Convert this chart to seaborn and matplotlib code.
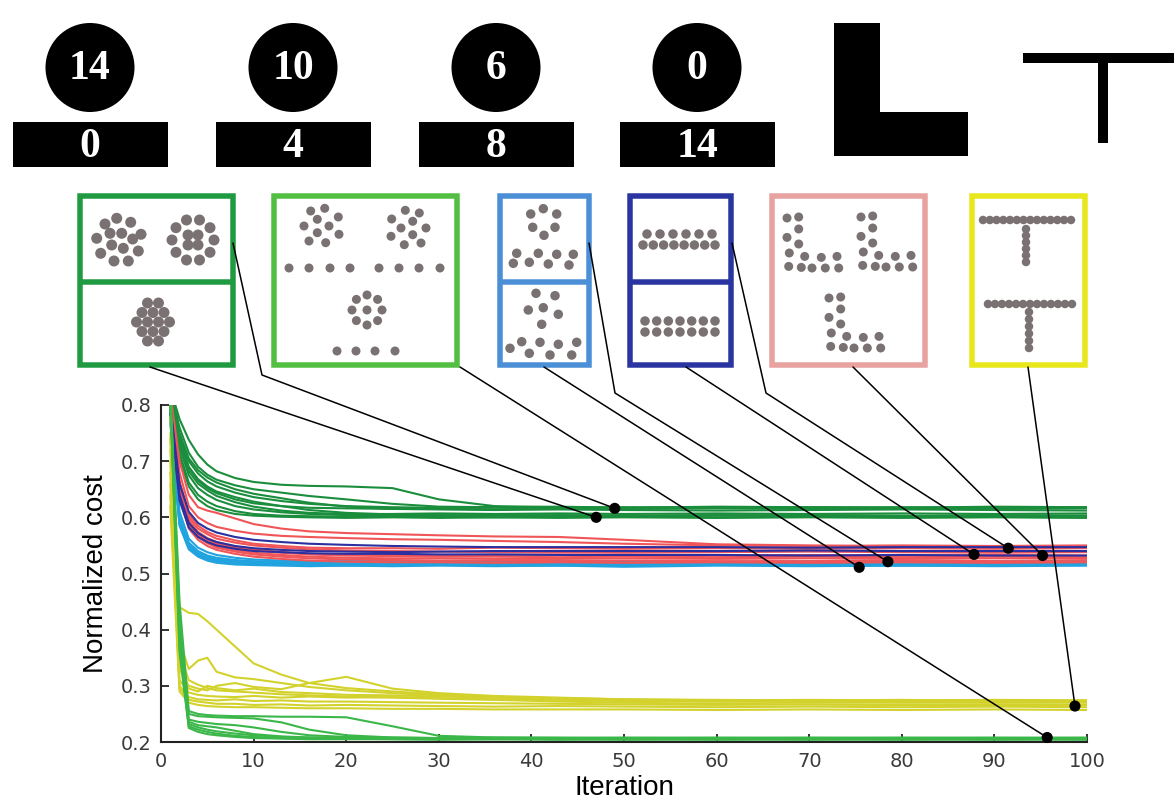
import matplotlib
matplotlib.use("Agg")
import matplotlib.pyplot as plt
from matplotlib.patches import Circle, Rectangle, Polygon
import numpy as np
import pandas as pd
import seaborn as sns

# ---------------------------------------------------------------- data
iterations = [1, 2, 3, 4, 5, 6, 8, 10, 13, 16, 20, 25, 30, 36, 43, 50, 60, 70, 80, 90, 100]

cost_dark_green = [
    [.830, .775, .738, .712, .694, .682, .670, .663, .658, .656, .655, .652, .632, .620, .618, .617, .618, .617, .618, .617, .618],
    [.830, .760, .715, .690, .676, .667, .657, .650, .644, .638, .632, .624, .619, .618, .617, .618, .617, .618, .617, .618, .617],
    [.825, .745, .700, .678, .664, .655, .644, .636, .629, .624, .620, .618, .617, .618, .619, .617, .619, .618, .617, .619, .618],
    [.820, .735, .688, .665, .652, .643, .632, .625, .620, .617, .616, .615, .616, .617, .616, .615, .616, .615, .616, .615, .616],
    [.820, .725, .675, .652, .640, .631, .620, .614, .609, .606, .604, .603, .603, .604, .603, .602, .603, .604, .603, .602, .603],
    [.815, .715, .662, .640, .628, .620, .611, .606, .603, .602, .601, .602, .601, .600, .601, .602, .600, .601, .602, .601, .600],
    [.825, .740, .690, .668, .655, .646, .636, .628, .620, .613, .608, .605, .604, .603, .604, .603, .604, .603, .602, .604, .603],
    [.810, .705, .655, .632, .620, .613, .606, .603, .601, .600, .599, .600, .599, .600, .599, .600, .599, .600, .599, .600, .599],
    [.828, .750, .705, .684, .671, .662, .650, .642, .634, .626, .619, .615, .614, .613, .614, .613, .612, .613, .614, .613, .612],
    [.822, .730, .682, .660, .648, .638, .627, .619, .612, .608, .606, .606, .607, .606, .607, .606, .607, .606, .607, .606, .607],
]

cost_cyan = [
    [.780, .600, .555, .540, .532, .528, .524, .522, .521, .520, .521, .520, .519, .520, .521, .520, .519, .520, .521, .520, .519],
    [.775, .590, .548, .534, .527, .523, .520, .518, .517, .517, .516, .517, .518, .517, .516, .517, .518, .517, .516, .517, .516],
    [.770, .585, .543, .530, .523, .519, .516, .515, .514, .513, .514, .513, .514, .513, .514, .512, .514, .513, .514, .513, .514],
    [.785, .610, .562, .546, .538, .533, .528, .525, .523, .522, .523, .522, .521, .522, .523, .522, .521, .522, .523, .522, .522],
    [.780, .595, .551, .537, .530, .525, .522, .520, .519, .518, .518, .519, .518, .517, .518, .519, .518, .517, .518, .519, .518],
    [.772, .588, .546, .532, .525, .521, .518, .516, .515, .515, .514, .515, .516, .515, .514, .515, .516, .515, .514, .515, .515],
]

cost_red = [
    [.820, .700, .640, .618, .612, .608, .598, .588, .580, .575, .572, .570, .568, .566, .565, .560, .552, .550, .548, .547, .546],
    [.815, .680, .620, .600, .590, .583, .576, .571, .567, .565, .563, .561, .560, .558, .556, .553, .550, .549, .550, .549, .550],
    [.810, .660, .600, .580, .570, .562, .555, .550, .546, .543, .541, .540, .539, .538, .538, .537, .538, .539, .538, .537, .538],
    [.805, .650, .590, .570, .560, .553, .546, .541, .537, .534, .532, .531, .530, .530, .529, .530, .529, .530, .529, .530, .529],
    [.800, .640, .585, .565, .554, .546, .539, .534, .530, .527, .525, .524, .523, .523, .522, .523, .522, .522, .523, .522, .522],
    [.812, .665, .605, .585, .574, .567, .559, .553, .549, .546, .545, .545, .544, .546, .545, .544, .545, .544, .545, .544, .545],
    [.808, .655, .595, .574, .563, .556, .548, .543, .538, .535, .533, .533, .532, .533, .534, .533, .532, .533, .532, .533, .532],
    [.803, .645, .588, .567, .556, .549, .542, .537, .533, .530, .528, .527, .527, .526, .526, .527, .526, .527, .526, .527, .526],
    [.798, .638, .580, .560, .549, .542, .535, .530, .526, .523, .521, .520, .520, .519, .520, .519, .520, .519, .520, .519, .520],
]

cost_blue = [
    [.800, .660, .610, .590, .580, .573, .565, .560, .556, .553, .551, .549, .548, .547, .547, .547, .547, .546, .547, .547, .547],
    [.790, .640, .590, .572, .562, .556, .549, .545, .542, .540, .539, .538, .539, .540, .540, .540, .540, .541, .540, .540, .540],
    [.785, .630, .582, .565, .556, .550, .544, .540, .538, .536, .535, .535, .534, .534, .533, .533, .533, .532, .533, .532, .532],
]

cost_yellow = [
    [.780, .440, .430, .428, .415, .400, .370, .340, .320, .305, .296, .290, .285, .280, .276, .274, .272, .273, .272, .274, .273],
    [.720, .380, .330, .345, .350, .325, .315, .312, .305, .298, .292, .287, .283, .280, .278, .276, .275, .274, .275, .273, .274],
    [.680, .330, .300, .295, .292, .300, .305, .298, .294, .305, .316, .295, .287, .282, .279, .276, .274, .272, .271, .272, .271],
    [.640, .310, .288, .284, .282, .281, .280, .282, .279, .281, .279, .280, .278, .276, .275, .273, .272, .271, .270, .270, .270],
    [.700, .300, .280, .276, .275, .274, .276, .273, .274, .272, .272, .271, .270, .269, .268, .267, .266, .267, .266, .265, .266],
    [.660, .295, .275, .272, .270, .268, .268, .266, .267, .265, .266, .265, .264, .263, .264, .263, .262, .263, .262, .263, .262],
    [.750, .360, .310, .302, .296, .292, .290, .288, .285, .283, .281, .279, .277, .275, .272, .270, .268, .267, .266, .267, .266],
    [.620, .290, .270, .266, .264, .263, .262, .262, .261, .260, .260, .259, .259, .258, .258, .258, .257, .258, .257, .258, .257],
    [.740, .340, .295, .290, .300, .296, .292, .295, .289, .287, .284, .283, .281, .279, .277, .275, .274, .275, .274, .275, .274],
]

cost_light_green = [
    [.830, .450, .255, .250, .248, .247, .246, .246, .245, .245, .244, .228, .211, .208, .208, .207, .208, .207, .208, .207, .208],
    [.825, .420, .250, .246, .245, .244, .243, .242, .235, .222, .212, .208, .207, .208, .207, .208, .207, .208, .207, .208, .207],
    [.820, .400, .240, .236, .234, .232, .230, .226, .218, .212, .209, .208, .207, .207, .206, .207, .206, .207, .206, .207, .206],
    [.815, .380, .232, .226, .222, .219, .215, .212, .209, .208, .207, .206, .206, .206, .205, .206, .205, .206, .205, .206, .205],
    [.810, .360, .225, .218, .214, .212, .209, .207, .206, .205, .205, .205, .204, .205, .204, .205, .204, .205, .204, .205, .204],
    [.820, .390, .236, .230, .228, .226, .220, .214, .210, .208, .207, .206, .206, .205, .206, .205, .206, .205, .206, .205, .206],
    [.812, .370, .228, .222, .218, .215, .211, .209, .207, .206, .206, .205, .205, .205, .205, .204, .205, .204, .205, .204, .205],
]

group_names = ["dark_green", "cyan", "red", "blue", "yellow", "light_green"]
group_costs = [cost_dark_green, cost_cyan, cost_red, cost_blue, cost_yellow, cost_light_green]
group_colors = ["#1b8e3d", "#21a3e0", "#f05558", "#2c309f", "#d3d22c", "#3bb74a"]

# highlighted runs (iteration, cost) that are linked to the shape panels
marker_iter = [47.0, 49.0, 95.7, 75.4, 78.5, 87.8, 91.5, 95.2, 98.7]
marker_cost = [0.600, 0.616, 0.208, 0.511, 0.521, 0.534, 0.545, 0.532, 0.264]

# team-size icons: circle count above, bar count below
circle_labels = ["14", "10", "6", "0"]
bar_labels = ["0", "4", "8", "14"]

# ---------------------------------------------------------------- long-form table
rows = []
for name, runs in zip(group_names, group_costs):
    for r, vals in enumerate(runs):
        for it, c in zip(iterations, vals):
            rows.append({"group": name, "run": f"{name}_{r}", "Iteration": it, "cost": c})
df = pd.DataFrame(rows)

# ---------------------------------------------------------------- style
sns.set_theme(style="white")
plt.rcParams["font.family"] = ["Liberation Sans", "DejaVu Sans"]

W, H = 1174, 801
fig = plt.figure(figsize=(W / 100, H / 100), dpi=100)
fig.patch.set_facecolor("white")

ax_l, ax_r, ax_t, ax_b = 161, 1087, 405, 742
ax = fig.add_axes([ax_l / W, (H - ax_b) / H, (ax_r - ax_l) / W, (ax_b - ax_t) / H])
ax.set_facecolor("none")

sns.lineplot(data=df, x="Iteration", y="cost", hue="group", units="run",
             estimator=None, hue_order=group_names,
             palette=dict(zip(group_names, group_colors)),
             linewidth=1.5, legend=False, sort=False, ax=ax)

ax.set_xlim(0, 100)
ax.set_ylim(0.2, 0.8)
ax.set_xticks(range(0, 101, 10))
ax.set_yticks([0.2, 0.3, 0.4, 0.5, 0.6, 0.7, 0.8])
ax.set_yticklabels(["0.2", "0.3", "0.4", "0.5", "0.6", "0.7", "0.8"])
for s in ("top", "right"):
    ax.spines[s].set_visible(False)
for s in ("left", "bottom"):
    ax.spines[s].set_color("#222222")
    ax.spines[s].set_linewidth(1.5)
ax.tick_params(axis="both", which="major", bottom=True, left=True, direction="in",
               length=6, width=1.3, color="#222222",
               labelsize=14, labelcolor="#3a3a3a", pad=7)
for lab in ax.get_xticklabels() + ax.get_yticklabels():
    lab.set_family("DejaVu Sans")
ax.set_xlabel("Iteration", fontsize=20, color="black", labelpad=3)
ax.set_ylabel("Normalized cost", fontsize=20, color="black", labelpad=8)

# ---------------------------------------------------------------- overlay in pixel units
ov = fig.add_axes([0, 0, 1, 1], zorder=5)
ov.set_xlim(0, W)
ov.set_ylim(H, 0)
ov.axis("off")
ov.patch.set_alpha(0)

# top icons
icon_cx = [90, 293, 496, 697]
for cx, ctext, btext in zip(icon_cx, circle_labels, bar_labels):
    ov.add_patch(Circle((cx, 67.5), 44.5, facecolor="black", edgecolor="none"))
    ov.text(cx, 69, ctext, color="white", fontsize=30, fontweight="bold",
            family="Liberation Serif", ha="center", va="center")
    ov.add_patch(Rectangle((cx - 77.5, 122), 155, 45, facecolor="black", edgecolor="none"))
    ov.text(cx, 147, btext, color="white", fontsize=30, fontweight="bold",
            family="Liberation Serif", ha="center", va="center")

ov.add_patch(Polygon([(834, 23), (880, 23), (880, 112), (968, 112), (968, 156), (834, 156)],
                     closed=True, facecolor="black", edgecolor="none"))
ov.add_patch(Rectangle((1023, 53), 151, 10, facecolor="black", edgecolor="none"))
ov.add_patch(Rectangle((1098, 63), 10, 80, facecolor="black", edgecolor="none"))

# shape panels: (left, top, right, bottom), colour, divider
panels = [
    ((77, 193, 236, 368), "#1f9a41", 282),
    ((271, 193, 460, 368), "#52bf43", None),
    ((497, 193, 592, 368), "#4b8fd7", 282),
    ((627, 193, 734, 368), "#2a35a1", 282),
    ((769, 193, 928, 368), "#e8a3a1", None),
    ((969, 193, 1088, 368), "#e7e71b", None),
]
for (x0, y0, x1, y1), col, div in panels:
    bw = 5.5
    ov.add_patch(Rectangle((x0 + bw / 2, y0 + bw / 2), x1 - x0 - bw, y1 - y0 - bw,
                           facecolor="white", edgecolor=col, linewidth=bw * 0.72))
    if div is not None:
        ov.plot([x0 + bw / 2, x1 - bw / 2], [div, div], color=col, lw=bw * 0.72,
                solid_capstyle="butt")

dot_gray = "#7a7272"


def place(pattern, cx, cy):
    return [(cx + dx, cy + dy) for dx, dy in pattern]


# panel 1: three compact groups
blob14 = [(-2.3, -21.7), (11.7, -17.7), (-14, -16), (-9, -6.7), (2.7, -6.7), (-22.3, -1.7),
          (22, -5.7), (13.7, -1), (-7.3, 5), (4.3, 8.3), (-18.3, 13.3), (19.3, 11), (-5, 21), (9.3, 21)]
ring14 = [(21, 0), (17, 12.3), (6.5, 20), (-6.5, 20), (-17, 12.3), (-21, 0), (-17, -12.3),
          (-6.5, -20), (6.5, -20), (17, -12.3), (-5, -5), (5, -5), (-5, 5), (5, 5)]
hex14 = [(-5.5, -19), (5.5, -19), (-11, -9.5), (0, -9.5), (11, -9.5), (-16.5, 0), (-5.5, 0),
         (5.5, 0), (16.5, 0), (-11, 9.5), (0, 9.5), (11, 9.5), (-5.5, 19), (5.5, 19)]
p1 = place(blob14, 119, 240) + place(ring14, 193, 240) + place(hex14, 153, 322)

# panel 2
blob10 = [(-8.3, -15), (5.7, -17.7), (-15, 0), (-1.7, -6.7), (10, 0), (19.3, -9),
          (-1.7, 6.7), (6.7, 16.7), (-10, 15), (20, 8.3)]
blob10_m = [(-dx, dy) for dx, dy in blob10]
ring9 = [(0, -15), (10.6, -10.6), (15, 0), (10.6, 10.6), (0, 15), (-10.6, 10.6), (-15, 0),
         (-10.6, -10.6), (0, 0)]
row8_x = [289, 309, 330, 350, 379, 399, 419, 440]
row4_x = [337, 356, 375, 395]
p2 = (place(blob10, 319, 226) + place(blob10_m, 411, 228) + [(x, 268) for x in row8_x]
      + place(ring9, 367, 310) + [(x, 351) for x in row4_x])

# panel 3
hex6_a = [(-13.3, -8), (-0.7, -13.3), (12.7, -8), (-11.3, 5.3), (11, 5.3), (0, 13.3)]
zig_a = [(516.7, 253.3), (538.3, 253.3), (556.7, 254.3), (573.3, 254.3),
         (513.3, 263.3), (529.3, 262.3), (548.3, 264), (569, 265)]
hex6_b = [(536, 293.3), (555, 295.7), (528.3, 310), (543.3, 307.7), (558.3, 314.3), (541.7, 324.3)]
zig_b = [(510, 348.3), (521.7, 341.7), (540, 342.3), (558.3, 344.3), (576.7, 342.3),
         (529.3, 353.3), (550, 355), (571.7, 355)]
p3 = place(hex6_a, 544, 222) + zig_a + hex6_b + zig_b

# panel 4
p4_top_upper = [647, 660, 673, 686, 699, 712]
p4_top_lower = [643, 653.3, 663.6, 673.9, 684.1, 694.4, 704.7, 715]
p4_bot = [645, 656.7, 668.3, 680, 691.7, 703.3, 715]
p4 = ([(x, 234) for x in p4_top_upper] + [(x, 245) for x in p4_top_lower]
      + [(x, 321) for x in p4_bot] + [(x, 332) for x in p4_bot])

# panel 5: three L groups
ell14 = [(0, 0), (11.7, -1), (11.7, 11), (0, 19.4), (11.7, 26), (2.3, 35), (17.7, 38.4),
         (34.3, 39.4), (50, 38.4), (1.7, 48.4), (14.3, 49.4), (25, 50), (38.3, 50), (51.7, 50)]
p5 = place(ell14, 787, 218) + place(ell14, 861, 217) + place(ell14, 829, 298)

# panel 6: two T groups
t1_row = [983, 989.8, 996.5, 1003.3, 1010, 1016.8, 1023.5, 1030.3, 1037, 1043.8, 1050.5,
          1057.3, 1064, 1071]
t1_stem = [229, 235.6, 242.2, 248.8, 255.4, 262]
t2_row = [988, 995, 1002, 1009, 1016, 1023, 1030, 1037, 1044, 1051, 1058, 1065, 1072]
t2_stem = [312, 319.2, 326.4, 333.6, 340.8, 348]
p6 = ([(x, 220) for x in t1_row] + [(1026, y) for y in t1_stem]
      + [(x, 304) for x in t2_row] + [(1029, y) for y in t2_stem])

for pts, diam in [(p1, 11), (p2, 9), (p3, 9.5), (p4, 9.5), (p5, 9), (p6, 8.5)]:
    arr = np.array(pts)
    ov.scatter(arr[:, 0], arr[:, 1], s=(diam * 0.72) ** 2, color=dot_gray,
               edgecolors="none", zorder=3)

# connectors from panels to the highlighted runs
connector_paths = [
    [(150, 367)],
    [(233, 243), (262, 375)],
    [(460, 367)],
    [(544, 367)],
    [(589, 243), (615, 393)],
    [(686, 367)],
    [(732, 243), (766, 393)],
    [(853, 367)],
    [(1028, 367)],
]
inv = ov.transData.inverted()
end_pts = []
for path, mx, my in zip(connector_paths, marker_iter, marker_cost):
    ex, ey = inv.transform(ax.transData.transform((mx, my)))
    end_pts.append((ex, ey))
    xs = [p[0] for p in path] + [ex]
    ys = [p[1] for p in path] + [ey]
    ov.plot(xs, ys, color="black", lw=1.1, zorder=4, solid_capstyle="round")
end_arr = np.array(end_pts)
ov.scatter(end_arr[:, 0], end_arr[:, 1], s=64, color="black", zorder=6, edgecolors="none")

fig.savefig("out.png", dpi=100, facecolor="white")
